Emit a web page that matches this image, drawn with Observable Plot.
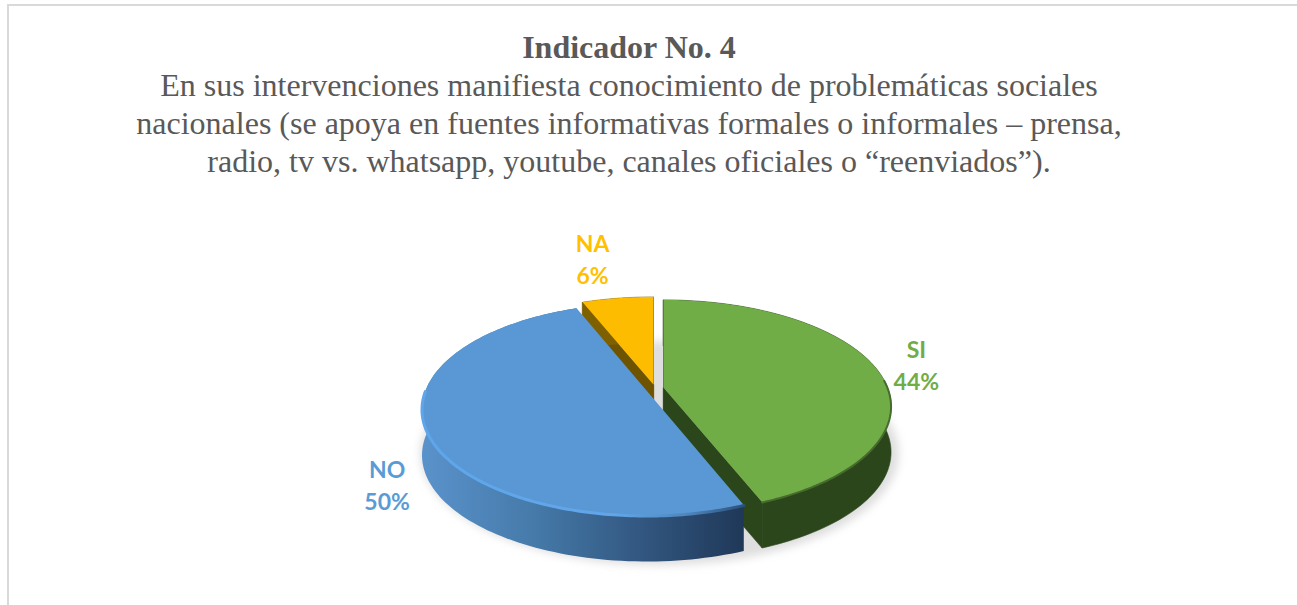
<!DOCTYPE html>
<html lang="es">
<head>
<meta charset="utf-8">
<style>
  html, body { margin: 0; padding: 0; background: #fff; overflow: hidden; width: 1297px; height: 605px; }
  #frame { position: absolute; left: 7px; top: 4px; width: 1290px; height: 601px; border-top: 2px solid #d9d9d9; border-left: 2px solid #d9d9d9; }
  #heading { position: absolute; left: 0; top: 27.5px; width: 1258px; text-align: center; color: #595959; font-family: "Liberation Serif", serif; }
  #heading .t { font-size: 32px; font-weight: bold; line-height: 38px; }
  #heading .s { font-size: 32px; line-height: 38px; }
  #chart { position: absolute; left: 0; top: 200px; }
  svg { display: block; }
</style>
<script src="https://cdn.jsdelivr.net/npm/d3@7"></script>
<script src="https://cdn.jsdelivr.net/npm/@observablehq/plot@0.6"></script>
</head>
<body>
<div id="frame"></div>
<div id="heading">
  <div class="t">Indicador No. 4</div>
  <div class="s">En sus intervenciones manifiesta conocimiento de problemáticas sociales<br>nacionales (se apoya en fuentes informativas formales o informales – prensa,<br>radio, tv vs. whatsapp, youtube, canales oficiales o “reenviados”).</div>
</div>
<div id="chart"></div>
<script>
// Data
const categories = ["SI", "NO", "NA"];
const values = [44, 50, 6];
const topColors = ["#70ad47", "#5a98d5", "#fdbc00"];
const labelColors = ["#70ad47", "#5b9bd5", "#ffc000"];
const wallColors = ["#2c461c", "url(#blueWall)", "#7f6000"];
const cutColors = ["#2c461c", "#2a4a6e", "#6e5300"];

// Look of the tilted pie
const radius = [224, 221, 224];
const T = 103, K = 0.176, depth = 46;
const apexX = [663, 646, 653], apexY = [387, 390, 384];
const labelRadius = [1.17, 1.2, 1.5], labelDx = [5, 8, -11], labelDy = [-2, 44, -6];

const total = d3.sum(values);
const cum = d3.cumsum(values);
const angleStart = values.map((v, i) => (cum[i] - v) / total * 2 * Math.PI);
const angleEnd = cum.map(c => c / total * 2 * Math.PI);

function project(i, angle, r = 1, z = 0) {
  const u = r * Math.sin(angle), v = r * Math.cos(angle), w = 1 + K * v;
  return {x: apexX[i] + radius[i] * u / w, y: apexY[i] - T * v / w + z};
}
const arc = (i, a0, a1, z = 0, r = 1) =>
  d3.range(0, 121).map(t => project(i, a0 + (a1 - a0) * t / 120, r, z));

const marks = [];
// gradients
marks.push(() => {
  const defs = d3.create("svg:defs");
  const add = (id, stops) => {
    const g = defs.append("linearGradient").attr("id", id).attr("x1", 0).attr("x2", 1).attr("y1", 0).attr("y2", 0);
    stops.forEach(([o, c]) => g.append("stop").attr("offset", o).attr("stop-color", c));
  };
  add("blueWall", [[0, "#5a92cb"], [0.35, "#457aa9"], [0.65, "#345a84"], [1, "#1f3858"]]);
  add("blueRim", [[0, "#5ea6ec"], [0.6, "#62a6e8"], [0.82, "#4f87bf"], [1, "#2c5078"]]);
  return defs.node();
});

// soft ground shadow, following the pie outline
marks.push(Plot.line(arc(0, 0, 2 * Math.PI, 45, 1.05).map(p => ({x: p.x - 4, y: p.y})), {
  x: "x", y: "y", fill: "#dedede", stroke: "none", curve: "linear-closed", imageFilter: "blur(4px)"
}));

// painter's order: back slice first
[2, 0, 1].forEach(i => {
  const a0 = angleStart[i], a1 = angleEnd[i];
  const apex = project(i, 0, 0), apexLow = project(i, 0, 0, depth);
  // cut walls
  if (i !== 1) {
    [a1, a0].forEach(a => {
      const e = project(i, a), eLow = project(i, a, 1, depth);
      marks.push(Plot.line([apex, e, eLow, apexLow], {
        x: "x", y: "y", fill: cutColors[i], stroke: cutColors[i], strokeWidth: 0.6, curve: "linear-closed"
      }));
    });
  }
  // outer wall
  marks.push(Plot.line([...arc(i, a0, a1), ...arc(i, a0, a1, depth).reverse()], {
    x: "x", y: "y", fill: wallColors[i], stroke: i === 1 ? "none" : wallColors[i], strokeWidth: 0.6, curve: "linear-closed"
  }));
  // top face
  marks.push(Plot.line([apex, ...arc(i, a0, a1)], {
    x: "x", y: "y", fill: topColors[i], stroke: "none", curve: "linear-closed"
  }));
  // bevel along the front rim of the big slice
  if (i === 1) {
    marks.push(Plot.line(arc(i, a0, a1 - 1.2).reverse().map(p => ({x: p.x, y: p.y + 0.5})), {
      x: "x", y: "y", stroke: "url(#blueRim)", strokeWidth: 3, imageFilter: "blur(0.5px)"
    }));
  }
  if (i === 0) {
    marks.push(Plot.line(arc(i, 1.5, a1).map(p => ({x: p.x, y: p.y + 0.5})), {
      x: "x", y: "y", stroke: "#466b2d", strokeWidth: 2, imageFilter: "blur(0.6px)"
    }));
  }
  // label
  const mid = (a0 + a1) / 2;
  const at = project(i, mid, labelRadius[i]);
  marks.push(Plot.text([at], {
    x: "x", y: "y", text: () => `${categories[i]}\n${values[i]}%`,
    fill: labelColors[i], fontSize: 23, fontWeight: "bold", fontFamily: "Lato",
    lineHeight: 1.4, textAnchor: "middle", dx: labelDx[i], dy: labelDy[i]
  }));
});

const chart = Plot.plot({
  width: 1297,
  height: 405,
  margin: 0,
  x: {domain: [0, 1297], range: [0, 1297], axis: null},
  y: {domain: [200, 605], range: [0, 405], axis: null},
  style: {background: "transparent"},
  marks
});
document.getElementById("chart").append(chart);
</script>
</body>
</html>
